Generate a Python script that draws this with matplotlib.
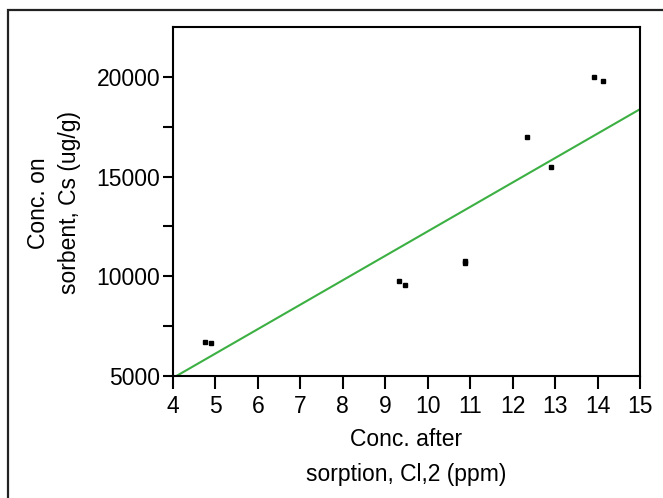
import matplotlib
matplotlib.use('Agg')
import matplotlib.pyplot as plt
from matplotlib.patches import Rectangle

# sorption data
cl2 = [4.75, 4.89, 9.33, 9.47, 10.88, 10.88, 12.35, 12.90, 13.91, 14.13]
cs  = [6720, 6640, 9750, 9550, 10750, 10650, 16960, 15490, 19970, 19770]

# fitted line end points
fit_x = [4.08, 15.0]
fit_y = [5000, 18380]

x_ticks = list(range(4, 16))
y_major = [5000, 10000, 15000, 20000]
y_minor = [7500, 12500, 17500]

plt.rcParams['font.family'] = ['Liberation Sans', 'DejaVu Sans']

W, H = 663, 498
fig = plt.figure(figsize=(W/100, H/100), dpi=100)
fig.patch.set_facecolor('white')

# outer frame
fig.add_artist(Rectangle((8/W, -0.2), 1.5, 488/H + 0.2, transform=fig.transFigure,
                         fill=False, edgecolor='#222222', lw=1.6))

ax = fig.add_axes([173/W, (H-376)/H, 467/W, 349/H])

ax.plot(fit_x, fit_y, color='#3cb043', lw=1.5, zorder=2)
ax.plot(cl2, cs, 's', color='black', ms=3, zorder=3)

ax.set_xlim(4, 15)
ax.set_ylim(5000, 22500)
ax.set_xticks(x_ticks)
ax.set_yticks(y_major)
ax.set_yticks(y_minor, minor=True)

fs = 16.5
for s in ax.spines.values():
    s.set_linewidth(1.5)
ax.tick_params(axis='x', direction='out', length=9, width=1.5, pad=5, labelsize=fs)
ax.tick_params(axis='y', which='both', direction='out', length=7, width=1.5, pad=2, labelsize=fs)
ax.tick_params(axis='y', which='minor', length=7, width=1.5)

fig.text(406/W, 1 - 457/H, 'Conc. after\nsorption, Cl,2 (ppm)', ha='center', va='center',
         fontsize=fs, linespacing=1.7, multialignment='center')
fig.text(54/W, 1 - 203/H, 'Conc. on\nsorbent, Cs (ug/g)', ha='center', va='center',
         rotation=90, fontsize=fs, linespacing=1.45, multialignment='center')

plt.savefig('out.png', dpi=100, facecolor='white')
